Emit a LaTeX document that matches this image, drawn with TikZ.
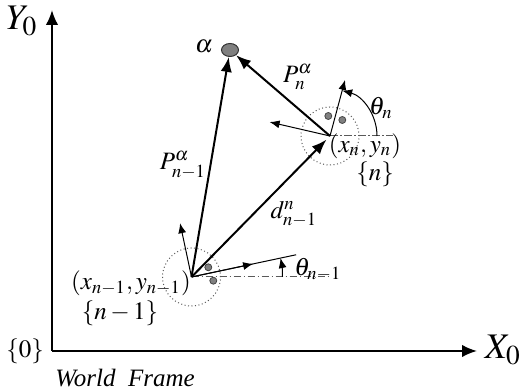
\documentclass[tikz,border=0pt]{standalone}
\usepackage{mathptmx}
\usepackage[no-math]{fontspec}
\setmainfont{Liberation Serif}
\usetikzlibrary{arrows.meta,shapes.geometric}
\begin{document}
\begin{tikzpicture}[x=0.4pt, y=0.4pt,
    vec/.style={line width=0.8pt, -{Latex[length=6pt,width=4.5pt]}},
    axis/.style={line width=0.8pt, -{Latex[length=6pt,width=5pt]}},
    frame/.style={line width=0.4pt, -{Latex[length=4pt,width=3.2pt]}},
    ref/.style={gray!70!black, line width=0.4pt, dash pattern=on 3pt off 1pt on 0.6pt off 1pt},
    body/.style={gray!70!black, densely dotted, line width=0.4pt},
    marker/.style={circle, fill=gray, draw=gray!50!black, line width=0.3pt, inner sep=0pt, minimum size=2.8pt},
    lab/.style={inner sep=0.5pt}]
    \useasboundingbox (0,0) rectangle (531,391);
    % world frame
    \coordinate (O) at (52,40);
    \coordinate (ytip) at (52,381);
    \coordinate (xtip) at (477,40);
    \draw[axis] (O) -- (ytip);
    \draw[axis] (O) -- (xtip);
    \node[lab, font=\Large] (ylab) at (22,370) {$Y_0$};
    \node[lab, font=\Large] (xlab) at (503,41) {$X_0$};
    \node[lab] (zero) at (25,40) {$\{0\}$};
    \node[lab, inner sep=0pt] (world) at (125,13) {\itshape World\ \ Frame};
    % landmark
    \node[ellipse, fill=gray, draw=gray!40!black, inner sep=0pt,
          minimum width=6.8pt, minimum height=5.2pt] (alpha) at (230,341) {};
    \node[lab] (alab) at (204,344) {$\alpha$};
    % robot at step n-1
    \coordinate (r1) at (191.5,114);
    \draw[body] (r1) circle[radius=29];
    \node[marker] (m1a) at ([shift={(16.8,9.7)}]r1) {};
    \node[marker] (m1b) at ([shift={(21.8,-3.7)}]r1) {};
    \draw[ref] (r1) -- ++(140,0) coordinate (h1);
    \draw[line width=0.4pt] (r1) -- ++(12:107) coordinate (x1);
    \draw[frame] (r1) -- ++(12:63);
    \draw[frame] (r1) -- ++(102:55) coordinate (y1);
    \draw[frame] ([shift={(0:91)}]r1) arc[start angle=0, end angle=12, radius=91];
    \node[lab] (t1) at (318,121) {$\theta_{n-1}$};
    \node[lab] (p1) at (131,108) {$(x_{n-1},y_{n-1})$};
    \node[lab] (f1) at (120,78) {$\{n-1\}$};
    % robot at step n
    \coordinate (r2) at (330,255);
    \draw[body] (r2) circle[radius=29];
    \node[marker] (m2a) at ([shift={(-1.7,20)}]r2) {};
    \node[marker] (m2b) at ([shift={(12.3,16)}]r2) {};
    \draw[ref] (r2) -- ++(63,0) coordinate (h2);
    \draw[frame] (r2) -- ++(75:58) coordinate (x2);
    \draw[frame] (r2) -- ++(167:62) coordinate (y2);
    \draw[frame] ([shift={(0:47)}]r2) arc[start angle=0, end angle=75, radius=47];
    \node[lab] (t2) at (381,283) {$\theta_n$};
    \node[lab] (p2) at (365,245) {$(x_n,y_n)$};
    \node[lab] (f2) at (375,217) {$\{n\}$};
    % vectors
    \draw[vec] (r1) -- (alpha);
    \draw[vec] (r2) -- (alpha);
    \draw[vec, shorten >=2pt] (r1) -- (r2);
    \node[lab] (pa1) at (183,226) {$P_{n-1}^{\alpha}$};
    \node[lab] (pa2) at (298,314) {$P_{n}^{\alpha}$};
    \node[lab] (d) at (294,177) {$d_{n-1}^{n}$};
\end{tikzpicture}
\end{document}
